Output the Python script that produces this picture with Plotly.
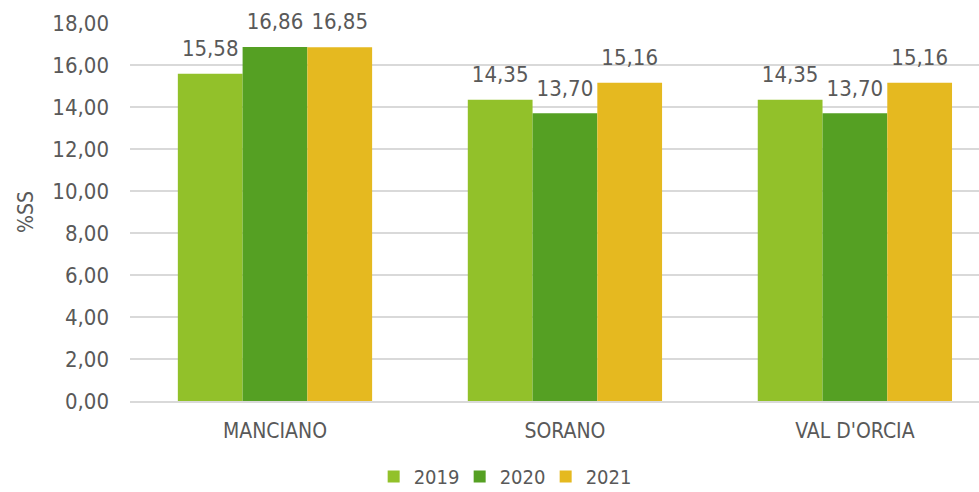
import plotly.graph_objects as go

categories = ["MANCIANO", "SORANO", "VAL D'ORCIA"]
years = ["2019", "2020", "2021"]
values_2019 = [15.58, 14.35, 14.35]
values_2020 = [16.86, 13.70, 13.70]
values_2021 = [16.85, 15.16, 15.16]
y_ticks = [0, 2, 4, 6, 8, 10, 12, 14, 16, 18]

colors = ["#92C12A", "#55A023", "#E5B920"]
series = [values_2019, values_2020, values_2021]

FONT = "DejaVu Sans Condensed, DejaVu Sans"
TXT = "#595959"

fig = go.Figure()
for name, vals, col in zip(years, series, colors):
    fig.add_trace(go.Bar(
        x=categories, y=vals, name=name, marker_color=col,
        marker_line_width=0, offsetgroup=name,
    ))
for name, vals in zip(years, series):
    fig.add_trace(go.Scatter(
        x=categories, y=vals, mode="markers+text", offsetgroup=name,
        marker=dict(size=18, opacity=0), showlegend=False, hoverinfo="skip",
        texttemplate="%{y:.2f}", textposition="top center",
        textfont=dict(family=FONT, size=22, color=TXT), cliponaxis=False,
    ))

fig.update_layout(
    width=979, height=492,
    margin=dict(l=130, r=0, t=23, b=91, autoexpand=False),
    paper_bgcolor="white", plot_bgcolor="white",
    separators=",.",
    barmode="group", bargap=0.33, bargroupgap=0,
    scattermode="group", scattergap=0.33,
    font=dict(family=FONT, color=TXT),
    showlegend=True,
    legend=dict(orientation="h", x=0.287, xanchor="left", y=-0.2, yanchor="middle",
                font=dict(family=FONT, size=20, color=TXT), itemwidth=30,
                entrywidth=41, entrywidthmode="pixels",
                traceorder="normal"),
    xaxis=dict(range=[-0.5, 2.428], showgrid=False, showline=True,
               linecolor="#D9D9D9", linewidth=2, ticks="", automargin=False,
               ticklabelstandoff=10,
               tickfont=dict(family=FONT, size=21, color=TXT)),
    yaxis=dict(range=[0, 18], tickvals=y_ticks, tickformat=".2f",
               showgrid=True, gridcolor="#D9D9D9", gridwidth=1.5,
               zeroline=False, showline=False, automargin=False,
               tickfont=dict(family=FONT, size=22, color=TXT),
               ticklabelstandoff=20,
               title=dict(text="%SS", font=dict(family=FONT, size=21, color=TXT), standoff=12)),
)

fig.write_html("out.html", config={"displayModeBar": False},
               post_script="document.body.style.margin='0';document.body.style.overflow='hidden';")
